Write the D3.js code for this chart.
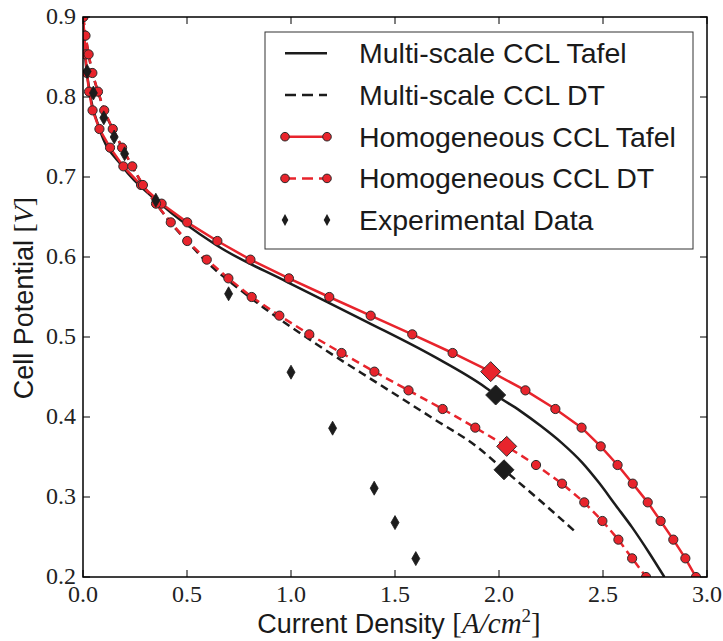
<!DOCTYPE html>
<html>
<head>
<meta charset="utf-8">
<script src="https://cdn.jsdelivr.net/npm/d3@7"></script>
<style>
  html, body { margin: 0; padding: 0; background: #fff; }
  svg { display: block; }
</style>
</head>
<body>
<svg id="chart" width="723" height="641"></svg>
<script>
// ---------- DATA ----------
const xTicks = [0.0, 0.5, 1.0, 1.5, 2.0, 2.5, 3.0];
const yTicks = [0.2, 0.3, 0.4, 0.5, 0.6, 0.7, 0.8, 0.9];

// Homogeneous CCL: voltage steps (0.9 -> 0.2)
const homVoltage = [0.9, 0.8767, 0.8533, 0.83, 0.8067, 0.7833, 0.76, 0.7367, 0.7133, 0.69,
  0.6667, 0.6433, 0.62, 0.5967, 0.5733, 0.55, 0.5267, 0.5033, 0.48, 0.4567,
  0.4333, 0.41, 0.3867, 0.3633, 0.34, 0.3167, 0.2933, 0.27, 0.2467, 0.2233, 0.2];
const homTafelCurrent = [0.0, 0.007, 0.012, 0.019, 0.029, 0.046, 0.079, 0.130, 0.194, 0.279,
  0.378, 0.501, 0.646, 0.805, 0.990, 1.184, 1.383, 1.583, 1.777, 1.960,
  2.127, 2.271, 2.397, 2.489, 2.570, 2.643, 2.715, 2.777, 2.838, 2.896, 2.947];
const homDTCurrent = [0.002, 0.012, 0.027, 0.045, 0.072, 0.102, 0.143, 0.188, 0.237, 0.288,
  0.351, 0.422, 0.501, 0.595, 0.699, 0.811, 0.944, 1.088, 1.243, 1.401,
  1.565, 1.729, 1.886, 2.037, 2.178, 2.303, 2.410, 2.497, 2.574, 2.640, 2.707];

// Multi-scale CCL Tafel
const msTafelCurrent = [0.0, 0.008, 0.03, 0.08, 0.19, 0.37, 0.64, 0.98, 1.364, 1.684, 1.94, 1.984, 2.10, 2.20, 2.30, 2.40, 2.48, 2.56, 2.64, 2.72, 2.795];
const msTafelVoltage = [0.9, 0.86, 0.81, 0.76, 0.713, 0.667, 0.615, 0.569, 0.519, 0.476, 0.436, 0.4275, 0.408, 0.389, 0.368, 0.343, 0.318, 0.290, 0.262, 0.231, 0.2];

// Multi-scale CCL DT
const msDTCurrent = [0.0, 0.012, 0.027, 0.045, 0.072, 0.102, 0.143, 0.188, 0.237, 0.288, 0.351, 0.42, 0.5, 0.59, 0.746, 0.867, 1.123, 1.436, 1.684, 1.893, 2.024, 2.2, 2.365];
const msDTVoltage = [0.9, 0.877, 0.853, 0.83, 0.807, 0.783, 0.76, 0.737, 0.713, 0.69, 0.667, 0.643, 0.62, 0.595, 0.561, 0.537, 0.491, 0.439, 0.398, 0.363, 0.334, 0.295, 0.257];

// Experimental data
const expCurrent = [0.02, 0.05, 0.1, 0.15, 0.2, 0.35, 0.7, 1.0, 1.2, 1.4, 1.5, 1.6];
const expVoltage = [0.832, 0.805, 0.774, 0.750, 0.729, 0.671, 0.554, 0.456, 0.386, 0.311, 0.268, 0.223];

// Highlighted points (large diamonds)
const hlCurrent = [1.960, 1.984, 2.037, 2.024];
const hlVoltage = [0.4567, 0.4275, 0.3633, 0.334];
const hlSeries = ["hom", "ms", "hom", "ms"];

const legendLabels = ["Multi-scale CCL Tafel", "Multi-scale CCL DT", "Homogeneous CCL Tafel", "Homogeneous CCL DT", "Experimental Data"];

// ---------- STYLE ----------
const RED = "#e8242c";
const BLACK = "#1c1c1c";
const EDGE = "#2a2a2a";
const SANS = "'Liberation Sans', Arial, sans-serif";
const SERIF = "'Liberation Serif', 'Times New Roman', serif";

const svg = d3.select("#chart");
const L = 83, R = 707, T = 17, B = 577;

const x = d3.scaleLinear().domain([0, 3]).range([L, R]);
const y = d3.scaleLinear().domain([0.2, 0.9]).range([B, T]);

svg.append("defs").append("clipPath").attr("id", "clip")
  .append("rect").attr("x", L).attr("y", T).attr("width", R - L).attr("height", B - T);

const plot = svg.append("g").attr("clip-path", "url(#clip)");

const zip = (xs, ys) => xs.map((v, i) => [v, ys[i]]);
const line = d3.line().x(d => x(d[0])).y(d => y(d[1])).curve(d3.curveMonotoneX);

// Multi-scale lines
plot.append("path").datum(zip(msTafelCurrent, msTafelVoltage))
  .attr("d", line).attr("fill", "none").attr("stroke", BLACK).attr("stroke-width", 2.5);
plot.append("path").datum(zip(msDTCurrent, msDTVoltage))
  .attr("d", line).attr("fill", "none").attr("stroke", BLACK).attr("stroke-width", 2.5)
  .attr("stroke-dasharray", "8,5");

// Homogeneous lines
const lineH = d3.line().x(d => x(d[0])).y(d => y(d[1]));
plot.append("path").datum(zip(homTafelCurrent, homVoltage))
  .attr("d", lineH).attr("fill", "none").attr("stroke", RED).attr("stroke-width", 2.5);
plot.append("path").datum(zip(homDTCurrent, homVoltage))
  .attr("d", lineH).attr("fill", "none").attr("stroke", RED).attr("stroke-width", 2.5)
  .attr("stroke-dasharray", "8,5");

// markers
function circles(data) {
  plot.append("g").selectAll("circle").data(data).join("circle")
    .attr("cx", d => x(d[0])).attr("cy", d => y(d[1])).attr("r", 4.6)
    .attr("fill", RED).attr("stroke", EDGE).attr("stroke-width", 1);
}
circles(zip(homTafelCurrent, homVoltage));
circles(zip(homDTCurrent, homVoltage));

// experimental thin diamonds
plot.append("g").selectAll("path").data(zip(expCurrent, expVoltage)).join("path")
  .attr("transform", d => `translate(${x(d[0])},${y(d[1])})`)
  .attr("d", "M0,-7 L4,0 L0,7 L-4,0 Z")
  .attr("fill", BLACK).attr("stroke", BLACK).attr("stroke-width", 0.8);

// highlight diamonds
plot.append("g").selectAll("path").data(hlCurrent.map((c, i) => [c, hlVoltage[i], hlSeries[i]])).join("path")
  .attr("transform", d => `translate(${x(d[0])},${y(d[1])})`)
  .attr("d", "M0,-10 L10,0 L0,10 L-10,0 Z")
  .attr("fill", d => d[2] === "hom" ? RED : BLACK)
  .attr("stroke", EDGE).attr("stroke-width", 1);

// ---------- AXES ----------
const tickLen = 7;
const axG = svg.append("g");
xTicks.forEach(t => {
  axG.append("line").attr("x1", x(t)).attr("x2", x(t)).attr("y1", B).attr("y2", B - tickLen).attr("stroke", "#000").attr("stroke-width", 1);
  axG.append("line").attr("x1", x(t)).attr("x2", x(t)).attr("y1", T).attr("y2", T + tickLen).attr("stroke", "#000").attr("stroke-width", 1);
});
yTicks.forEach(t => {
  axG.append("line").attr("x1", L).attr("x2", L + tickLen).attr("y1", y(t)).attr("y2", y(t)).attr("stroke", "#000").attr("stroke-width", 1);
  axG.append("line").attr("x1", R).attr("x2", R - tickLen).attr("y1", y(t)).attr("y2", y(t)).attr("stroke", "#000").attr("stroke-width", 1);
});
axG.append("rect").attr("x", L).attr("y", T).attr("width", R - L).attr("height", B - T)
  .attr("fill", "none").attr("stroke", "#000").attr("stroke-width", 1.5);

const fmt = d3.format(".1f");
svg.append("g").selectAll("text").data(xTicks).join("text")
  .attr("x", d => x(d)).attr("y", 602).attr("text-anchor", "middle")
  .attr("font-family", SERIF).attr("font-size", 24).attr("fill", "#222")
  .text(d => fmt(d));
svg.append("g").selectAll("text").data(yTicks).join("text")
  .attr("x", 76).attr("y", d => y(d) + 7).attr("text-anchor", "end")
  .attr("font-family", SERIF).attr("font-size", 24).attr("fill", "#222")
  .text(d => fmt(d));

// axis labels
const xl = svg.append("text").attr("x", 399).attr("y", 633).attr("text-anchor", "middle")
  .attr("font-size", 27).attr("fill", "#1a1a1a");
xl.append("tspan").attr("font-family", SANS).text("Current Density ");
xl.append("tspan").attr("font-family", SERIF).attr("font-size", 29).text("[");
xl.append("tspan").attr("font-family", SERIF).attr("font-size", 29).attr("font-style", "italic").text("A/cm");
xl.append("tspan").attr("font-family", SERIF).attr("font-size", 19).attr("dy", -11).text("2");
xl.append("tspan").attr("font-family", SERIF).attr("font-size", 29).attr("dy", 11).text("]");

const yl = svg.append("text").attr("transform", "translate(33,298) rotate(-90)").attr("text-anchor", "middle")
  .attr("font-size", 27).attr("fill", "#1a1a1a");
yl.append("tspan").attr("font-family", SANS).text("Cell Potential ");
yl.append("tspan").attr("font-family", SERIF).attr("font-size", 28).text("[");
yl.append("tspan").attr("font-family", SERIF).attr("font-size", 28).attr("font-style", "italic").text("V");
yl.append("tspan").attr("font-family", SERIF).attr("font-size", 28).text("]");

// ---------- LEGEND ----------
const lg = svg.append("g");
lg.append("rect").attr("x", 265).attr("y", 32).attr("width", 428).attr("height", 217)
  .attr("fill", "#fff").attr("stroke", "#333").attr("stroke-width", 1);
const ly0 = 53.3, lstep = 41.7, lx1 = 285, lx2 = 327;
legendLabels.forEach((lab, i) => {
  const yy = ly0 + i * lstep;
  const g = lg.append("g");
  if (i < 4) {
    const col = i < 2 ? BLACK : RED;
    const ln = g.append("line").attr("x1", lx1).attr("x2", lx2).attr("y1", yy).attr("y2", yy)
      .attr("stroke", col).attr("stroke-width", 2.5);
    if (i % 2 === 1) ln.attr("stroke-dasharray", "11,6");
    if (i >= 2) {
      [lx1, lx2].forEach(cx => g.append("circle").attr("cx", cx).attr("cy", yy).attr("r", 4.3)
        .attr("fill", RED).attr("stroke", EDGE).attr("stroke-width", 1));
    }
  } else {
    [lx1, lx2].forEach(cx => g.append("path").attr("transform", `translate(${cx},${yy})`)
      .attr("d", "M0,-6 L3.3,0 L0,6 L-3.3,0 Z").attr("fill", BLACK));
  }
  g.append("text").attr("x", 359).attr("y", yy + 10).attr("font-family", SANS)
    .attr("font-size", 28.5).attr("fill", "#1a1a1a").text(lab);
});
</script>
</body>
</html>
